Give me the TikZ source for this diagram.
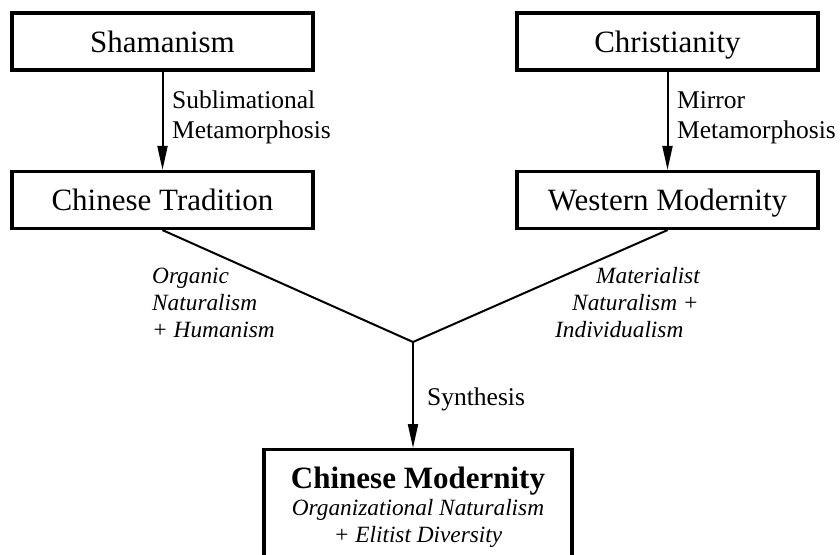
\documentclass[tikz,border=0pt]{standalone}
\usepackage{fontspec}
\setmainfont{Liberation Serif}
\usetikzlibrary{arrows.meta}
\tikzset{
  box/.style={draw, line width=3.2pt, minimum width=301pt, minimum height=57pt, inner sep=0pt, text height=24pt, text depth=3pt, font=\fontsize{31}{36}\selectfont},
  lbl/.style={inner sep=0pt, anchor=base west, font=\fontsize{25.5}{30}\selectfont},
  ital/.style={inner sep=0pt, anchor=base west, font=\fontsize{23.3}{27}\selectfont\itshape},
  conn/.style={line width=2pt},
  arr/.style={line width=2pt, -{Triangle[length=24pt,width=10pt]}}
}
\begin{document}
\begin{tikzpicture}[x=1pt,y=-1pt]
\path[use as bounding box] (0,0) rectangle (840,554);
\clip (0,0) rectangle (840,554);
\node[box] (sh) at (162.5,41.5) {Shamanism};
\node[box] (ct) at (162.5,200) {Chinese Tradition};
\node[box] (ch) at (667.5,41.5) {Christianity};
\node[box] (wm) at (667.5,200) {Western Modernity};
\node[draw, line width=3.2pt, minimum width=308pt, minimum height=160pt, inner sep=0pt, anchor=north] (cm) at (418,448) {};
\coordinate (j) at (413,342);
\draw[arr] (sh) -- (ct);
\draw[arr] (ch) -- (wm);
\draw[conn] (ct.south) -- (j) -- (wm.south);
\draw[arr] (j) -- (j |- cm.north);
\node[lbl] (s1) at (172,108) {Sublimational};
\node[lbl] (s2) at (172,138) {Metamorphosis};
\node[lbl] (m1) at (677,108) {Mirror};
\node[lbl] (m2) at (677,138) {Metamorphosis};
\node[lbl] (sy) at (427,405) {Synthesis};
\node[ital] (o1) at (152,283) {Organic};
\node[ital] (o2) at (152,310) {Naturalism};
\node[ital] (o3) at (152,337) {+ Humanism};
\node[ital] (r1) at (596,283) {Materialist};
\node[ital] (r2) at (572,310) {Naturalism +};
\node[ital] (r3) at (555,337) {Individualism};
\node[inner sep=0pt, anchor=base, font=\fontsize{31}{36}\selectfont\bfseries] (t1) at (418,488) {Chinese Modernity};
\node[inner sep=0pt, anchor=base, font=\fontsize{23.3}{27}\selectfont\itshape] (t2) at (418,515) {Organizational Naturalism};
\node[inner sep=0pt, anchor=base, font=\fontsize{23.3}{27}\selectfont\itshape] (t3) at (418,542) {+ Elitist Diversity};
\end{tikzpicture}
\end{document}
